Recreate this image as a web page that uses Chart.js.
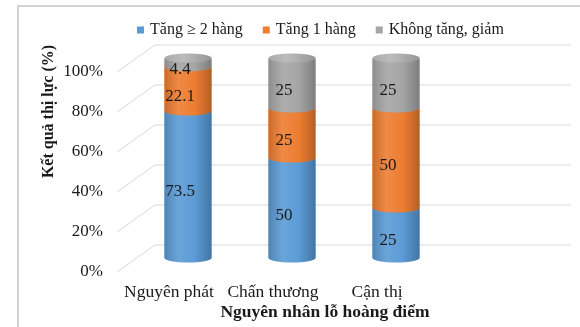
<!DOCTYPE html>
<html>
<head>
<meta charset="utf-8">
<script src="https://cdn.jsdelivr.net/npm/chart.js@4.4.0/dist/chart.umd.min.js"></script>
<style>
  html, body { margin: 0; padding: 0; background: #fff; overflow: hidden; }
  #wrap { width: 580px; height: 327px; }
</style>
</head>
<body>
<div id="wrap"><canvas id="eyeChart" width="580" height="327"></canvas></div>
<script>
// last slot is left empty so the back wall runs on past the third bar
const categories = ['Nguyên phát', 'Chấn thương', 'Cận thị', ''];
const seriesNames = ['Tăng ≥ 2 hàng', 'Tăng 1 hàng', 'Không tăng, giảm'];
const gainTwoLines = [73.5, 50, 25];
const gainOneLine = [22.1, 25, 50];
const noGain = [4.4, 25, 25];
const yTicks = [0, 20, 40, 60, 80, 100];

const colors = ['#5B9BD5', '#ED7D31', '#A5A5A5'];
const SERIF = "'Liberation Serif', 'Times New Roman', serif";
const GRID = '#d9d9d9';
const TEXT = '#1a1a1a';

// fake 3D depth: front edge sits down-left, back wall up-right
const DEPTH_X = 19;
const DEPTH_Y = 13.5;
const CAP_RY = 4.5;

// mix a hex colour with white (amt > 0) or black (amt < 0)
const shade = (hex, amt) => {
  const n = parseInt(hex.slice(1), 16);
  const mix = c => {
    const t = amt > 0 ? 255 : 0;
    return Math.round(c + (t - c) * Math.abs(amt));
  };
  const r = mix(n >> 16), g = mix((n >> 8) & 255), b = mix(n & 255);
  return `rgb(${r},${g},${b})`;
};

const bodyGradient = (ctx, x, rx, color) => {
  const g = ctx.createLinearGradient(x - rx, 0, x + rx, 0);
  g.addColorStop(0, shade(color, -0.14));
  g.addColorStop(0.3, shade(color, 0.1));
  g.addColorStop(0.65, color);
  g.addColorStop(1, shade(color, -0.24));
  return g;
};

// frame, back wall grid and the slanted floor lines
const wallPlugin = {
  id: 'wall',
  beforeDraw(chart) {
    const { ctx, width, height } = chart;
    ctx.save();
    ctx.fillStyle = '#fff';
    ctx.fillRect(0, 0, width, height);
    ctx.strokeStyle = '#d4d4d4';
    ctx.lineWidth = 2;
    ctx.strokeRect(18, 6, width + 20, height + 20);
    ctx.restore();
  },
  beforeDatasetsDraw(chart) {
    const { ctx, chartArea } = chart;
    const yScale = chart.scales.y;
    ctx.save();
    ctx.strokeStyle = GRID;
    ctx.lineWidth = 1;
    yTicks.forEach(v => {
      const py = Math.round(yScale.getPixelForValue(v)) + 0.5;
      ctx.beginPath();
      ctx.moveTo(chartArea.left - DEPTH_X, py + DEPTH_Y);
      ctx.lineTo(chartArea.left + DEPTH_X, py - DEPTH_Y);
      ctx.lineTo(chartArea.right + DEPTH_X, py - DEPTH_Y);
      ctx.stroke();
    });
    ctx.restore();
  },
};

// redraw each stacked bar as a cylinder segment, then the value labels
const cylinderPlugin = {
  id: 'cylinders',
  afterDatasetsDraw(chart) {
    const ctx = chart.ctx;
    const sets = chart.data.datasets;
    ctx.save();
    sets.forEach((ds, d) => {
      chart.getDatasetMeta(d).data.forEach(el => {
        const { x, y, base, width } = el.getProps(['x', 'y', 'base', 'width'], true);
        const rx = width / 2;
        ctx.fillStyle = bodyGradient(ctx, x, rx, ds.backgroundColor);
        ctx.beginPath();
        ctx.moveTo(x - rx, y);
        ctx.ellipse(x, y, rx, CAP_RY, 0, Math.PI, 0, true);
        ctx.lineTo(x + rx, base);
        ctx.ellipse(x, base, rx, CAP_RY, 0, 0, Math.PI, false);
        ctx.closePath();
        ctx.fill();

        if (d === sets.length - 1) {
          const cap = ctx.createLinearGradient(x - rx, 0, x + rx, 0);
          cap.addColorStop(0, shade(ds.backgroundColor, 0.05));
          cap.addColorStop(0.4, shade(ds.backgroundColor, 0.25));
          cap.addColorStop(1, shade(ds.backgroundColor, -0.1));
          ctx.fillStyle = cap;
          ctx.beginPath();
          ctx.ellipse(x, y, rx, CAP_RY, 0, 0, Math.PI * 2);
          ctx.fill();
        }
      });
    });

    ctx.fillStyle = TEXT;
    ctx.font = `17px ${SERIF}`;
    ctx.textAlign = 'center';
    ctx.textBaseline = 'middle';
    sets.forEach((ds, d) => {
      chart.getDatasetMeta(d).data.forEach((el, i) => {
        const { x, y, base } = el.getProps(['x', 'y', 'base'], true);
        ctx.fillText(String(ds.data[i]), x - 8, (y + base) / 2 + 7.5);
      });
    });
    ctx.restore();
  },
  afterDraw(chart) {
    const { ctx, chartArea } = chart;
    ctx.save();
    ctx.fillStyle = TEXT;
    ctx.textBaseline = 'middle';

    // legend
    ctx.font = `16px ${SERIF}`;
    ctx.textAlign = 'left';
    let lx = 137;
    chart.data.datasets.forEach(ds => {
      ctx.fillStyle = ds.backgroundColor;
      ctx.fillRect(lx, 26.5, 7, 7);
      ctx.fillStyle = TEXT;
      ctx.fillText(ds.label, lx + 13, 30);
      lx += 13 + ctx.measureText(ds.label).width + 20;
    });

    // axis titles
    ctx.font = `bold 17.5px ${SERIF}`;
    ctx.textAlign = 'center';
    ctx.fillText('Nguyên nhân lỗ hoàng điểm', (chartArea.left + chartArea.right) / 2 - DEPTH_X, 312);

    ctx.font = `bold 16px ${SERIF}`;
    ctx.translate(49, 111.5);
    ctx.rotate(-Math.PI / 2);
    ctx.fillText('Kết quả thị lực (%)', 0, 0);
    ctx.restore();
  },
};

const makeSet = (label, data, color) => ({
  label,
  data,
  backgroundColor: color,
  borderWidth: 0,
  barPercentage: 0.452,
  categoryPercentage: 1,
});

new Chart(document.getElementById('eyeChart'), {
  type: 'bar',
  data: {
    labels: categories,
    datasets: [
      makeSet(seriesNames[0], gainTwoLines, colors[0]),
      makeSet(seriesNames[1], gainOneLine, colors[1]),
      makeSet(seriesNames[2], noGain, colors[2]),
    ],
  },
  options: {
    responsive: false,
    animation: false,
    layout: { padding: { top: 58, left: 18, right: 28, bottom: 0 } },
    plugins: {
      legend: { display: false },
      tooltip: { enabled: false },
    },
    scales: {
      x: {
        stacked: true,
        grid: { display: false },
        border: { display: false },
        ticks: {
          color: TEXT,
          font: { family: SERIF, size: 17.5 },
          padding: 16,
          labelOffset: -DEPTH_X,
          maxRotation: 0,
          autoSkip: false,
        },
        afterFit: s => { s.height = 69; },
      },
      y: {
        stacked: true,
        min: 0,
        max: 100,
        grid: { display: false },
        border: { display: false },
        ticks: {
          color: TEXT,
          font: { family: SERIF, size: 17 },
          padding: 25,
          labelOffset: DEPTH_Y,
          callback: v => v + '%',
        },
        afterBuildTicks: s => { s.ticks = yTicks.map(v => ({ value: v })); },
        afterFit: s => { s.width = 118; },
      },
    },
  },
  plugins: [wallPlugin, cylinderPlugin],
});
</script>
</body>
</html>
